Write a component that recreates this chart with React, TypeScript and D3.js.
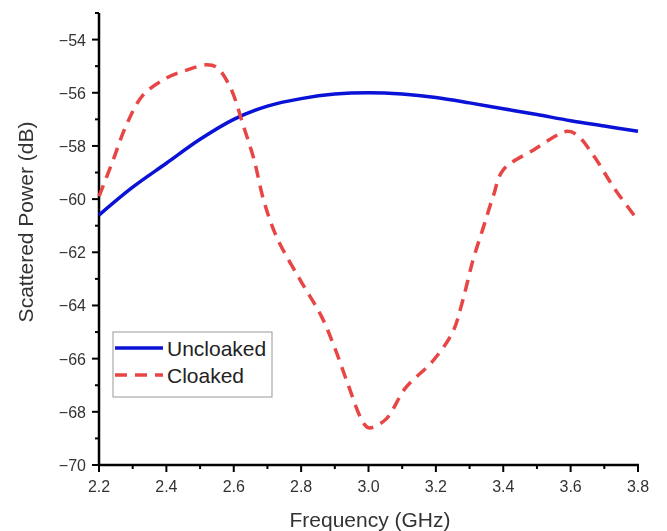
import React, { useEffect, useRef } from 'react';
import * as d3 from 'd3';

// frequencies in GHz
const freqUncloaked = [2.2, 2.3, 2.4, 2.5, 2.6, 2.7, 2.8, 2.9, 3.0, 3.1, 3.2, 3.3, 3.4, 3.5, 3.6, 3.7, 3.8];
const uncloaked = [-60.6, -59.55, -58.65, -57.75, -57.0, -56.5, -56.22, -56.05, -56.0, -56.05, -56.18, -56.38, -56.6, -56.82, -57.05, -57.25, -57.45];

const freqCloaked = [2.2, 2.24, 2.28, 2.33, 2.4, 2.46, 2.52, 2.55, 2.59, 2.63, 2.66, 2.69, 2.73, 2.8, 2.86, 2.9, 2.94, 2.98, 3.0, 3.05, 3.11, 3.19, 3.25, 3.28, 3.31, 3.34, 3.37, 3.4, 3.49, 3.59, 3.62, 3.67, 3.73, 3.8];
const cloaked = [-59.9, -58.6, -57.25, -56.1, -55.45, -55.15, -54.95, -55.05, -55.8, -57.3, -58.5, -60.1, -61.5, -63.1, -64.4, -65.6, -67.0, -68.3, -68.6, -68.3, -67.1, -66.1, -65.0, -63.8, -62.3, -61.1, -59.9, -58.9, -58.15, -57.45, -57.6, -58.4, -59.6, -60.8];

const xTicks = [2.2, 2.4, 2.6, 2.8, 3.0, 3.2, 3.4, 3.6, 3.8];
const yTicks = [-70, -68, -66, -64, -62, -60, -58, -56, -54];

const legendItems = ['Uncloaked', 'Cloaked'];

export default function App() {
  const ref = useRef<SVGSVGElement>(null);

  useEffect(() => {
    const svg = d3.select(ref.current);
    svg.selectAll('*').remove();

    const left = 99, right = 638, top = 13, bottom = 465;

    const x = d3.scaleLinear().domain([2.2, 3.8]).range([left, right]);
    const y = d3.scaleLinear().domain([-70, -53]).range([bottom, top]);

    const font = 'Liberation Sans, Arial, sans-serif';
    const minus = (v: number) => String(v).replace('-', '\u2212');

    // x axis
    const xMinor = d3.range(2.3, 3.8, 0.2);
    const xa = svg.append('g').attr('transform', `translate(0,${bottom})`);
    xa.append('line').attr('x1', left - 1).attr('x2', right + 1).attr('stroke', '#000').attr('stroke-width', 2.5);
    xa.selectAll('.maj').data(xTicks).enter().append('line')
      .attr('x1', d => x(d)).attr('x2', d => x(d)).attr('y1', 0).attr('y2', 7)
      .attr('stroke', '#000').attr('stroke-width', 2);
    xa.selectAll('.min').data(xMinor).enter().append('line')
      .attr('x1', d => x(d)).attr('x2', d => x(d)).attr('y1', 0).attr('y2', 4)
      .attr('stroke', '#000').attr('stroke-width', 2);
    xa.selectAll('text').data(xTicks).enter().append('text')
      .attr('x', d => x(d)).attr('y', 27).attr('text-anchor', 'middle')
      .attr('font-family', font).attr('font-size', 16).attr('fill', '#333')
      .text(d => d3.format('.1f')(d));

    // y axis
    const yMinor = d3.range(-69, -52, 2);
    const ya = svg.append('g').attr('transform', `translate(${left},0)`);
    ya.append('line').attr('y1', top).attr('y2', bottom + 1).attr('stroke', '#000').attr('stroke-width', 2.5);
    ya.selectAll('.maj').data(yTicks).enter().append('line')
      .attr('y1', d => y(d)).attr('y2', d => y(d)).attr('x1', 0).attr('x2', -7)
      .attr('stroke', '#000').attr('stroke-width', 2);
    ya.selectAll('.min').data(yMinor).enter().append('line')
      .attr('y1', d => y(d)).attr('y2', d => y(d)).attr('x1', 0).attr('x2', -4)
      .attr('stroke', '#000').attr('stroke-width', 2);
    ya.selectAll('text').data(yTicks).enter().append('text')
      .attr('x', -13).attr('y', d => y(d) + 6).attr('text-anchor', 'end')
      .attr('font-family', font).attr('font-size', 16).attr('fill', '#333')
      .text(d => minus(d));

    // axis titles
    svg.append('text')
      .attr('x', 370).attr('y', 527).attr('text-anchor', 'middle')
      .attr('font-family', font).attr('font-size', 21).attr('fill', '#333')
      .text('Frequency (GHz)');
    svg.append('text')
      .attr('transform', `translate(33,222) rotate(-90)`)
      .attr('text-anchor', 'middle')
      .attr('font-family', font).attr('font-size', 21).attr('fill', '#333')
      .text('Scattered Power (dB)');

    const line = d3.line<[number, number]>()
      .x(d => x(d[0])).y(d => y(d[1]))
      .curve(d3.curveCatmullRom.alpha(0.5));

    svg.append('path')
      .datum(d3.zip(freqUncloaked, uncloaked) as [number, number][])
      .attr('d', line).attr('fill', 'none')
      .attr('stroke', '#0a12d6').attr('stroke-width', 3.5);

    svg.append('path')
      .datum(d3.zip(freqCloaked, cloaked) as [number, number][])
      .attr('d', line).attr('fill', 'none')
      .attr('stroke', '#e84545').attr('stroke-width', 3.5)
      .attr('stroke-dasharray', '12,8');

    // legend
    const lg = svg.append('g').attr('transform', 'translate(113,332)');
    lg.append('rect').attr('width', 159).attr('height', 65)
      .attr('fill', '#fff').attr('stroke', '#999').attr('stroke-width', 1);
    const styles = [
      { color: '#0a12d6', dash: null },
      { color: '#e84545', dash: '12,8' },
    ];
    legendItems.forEach((name, i) => {
      const cy = 16 + i * 27;
      lg.append('line').attr('x1', 2).attr('x2', 50).attr('y1', cy).attr('y2', cy)
        .attr('stroke', styles[i].color).attr('stroke-width', 3.5)
        .attr('stroke-dasharray', styles[i].dash);
      lg.append('text').attr('x', 54).attr('y', cy + 8)
        .attr('font-family', font).attr('font-size', 21).attr('fill', '#222')
        .text(name);
    });
  }, []);

  return <svg ref={ref} width={667} height={531} style={{ position: 'fixed', left: 0, top: 0 }} />;
}
